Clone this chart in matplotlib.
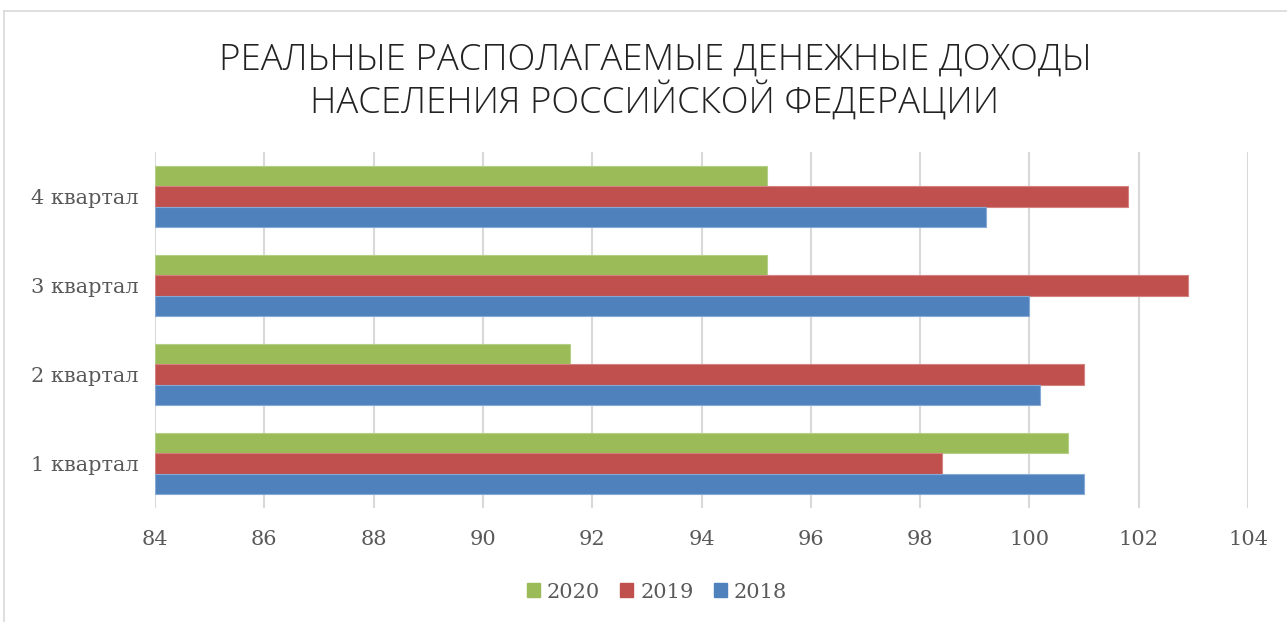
import matplotlib
matplotlib.use("Agg")
import matplotlib.pyplot as plt
from matplotlib.lines import Line2D
import numpy as np

categories = ["1 квартал", "2 квартал", "3 квартал", "4 квартал"]
series_names = ["2020", "2019", "2018"]
values_2020 = [100.7, 91.6, 95.2, 95.2]
values_2019 = [98.4, 101.0, 102.9, 101.8]
values_2018 = [101.0, 100.2, 100.0, 99.2]
x_ticks = [84, 86, 88, 90, 92, 94, 96, 98, 100, 102, 104]
title_lines = ["РЕАЛЬНЫЕ РАСПОЛАГАЕМЫЕ ДЕНЕЖНЫЕ ДОХОДЫ", "НАСЕЛЕНИЯ РОССИЙСКОЙ ФЕДЕРАЦИИ"]

colors = {"2020": "#9BBB59", "2019": "#C0504D", "2018": "#4F81BD"}
edges = {"2020": "#B5CF86", "2019": "#D2837F", "2018": "#86A9D6"}

W, H = 1287, 622
fig = plt.figure(figsize=(W / 100, H / 100), dpi=100)
fig.patch.set_facecolor("white")

# chart frame
fig.add_artist(Line2D([4 / W, 4 / W], [0, 1 - 11 / H], transform=fig.transFigure, color="#d9d9d9", lw=1.2))
fig.add_artist(Line2D([4 / W, 1], [1 - 11 / H, 1 - 11 / H], transform=fig.transFigure, color="#d9d9d9", lw=1.2))

ax = fig.add_axes([155 / W, 1 - 508 / H, (1248 - 155) / W, (508 - 152) / H])

y = np.arange(len(categories))
bh = 0.225
base = 84
data = {"2020": values_2020, "2019": values_2019, "2018": values_2018}
offsets = {"2020": bh, "2019": 0.0, "2018": -bh}
for name in series_names:
    vals = np.array(data[name])
    ax.barh(y + offsets[name], vals - base, left=base, height=bh,
            color=colors[name], edgecolor=edges[name], linewidth=0.8, zorder=3, label=name)

ax.set_xlim(84, 104)
ax.set_ylim(-0.5, 3.5)
ax.set_xticks(x_ticks)
ax.set_xticklabels([str(t) for t in x_ticks])
ax.set_yticks(y)
ax.set_yticklabels(categories)
ax.grid(axis="x", color="#d9d9d9", lw=1.5, zorder=0)
ax.grid(axis="y", visible=False)
for s in ax.spines.values():
    s.set_visible(False)
ax.tick_params(axis="both", length=0, colors="#595959", labelsize=15)
ax.tick_params(axis="x", pad=16)
ax.tick_params(axis="y", pad=12)
for lab in ax.get_xticklabels() + ax.get_yticklabels():
    lab.set_fontfamily("DejaVu Serif")

for i, yy in enumerate([60, 103]):
    fig.text(655 / W, 1 - yy / H, title_lines[i], ha="center", va="center",
             fontsize=26.3, color="#222222", fontfamily="Open Sans", fontweight="light")

handles = [plt.Rectangle((0, 0), 1, 1, color=colors[n]) for n in series_names]
leg = fig.legend(handles, series_names, loc="center", bbox_to_anchor=(657 / W, 1 - 592 / H),
                 ncol=3, frameon=False, handlelength=0.63, handleheight=0.63,
                 handletextpad=0.34, columnspacing=0.96,
                 prop={"family": "DejaVu Serif", "size": 15})
for t in leg.get_texts():
    t.set_color("#595959")

fig.savefig("out.png", dpi=100, facecolor="white")
